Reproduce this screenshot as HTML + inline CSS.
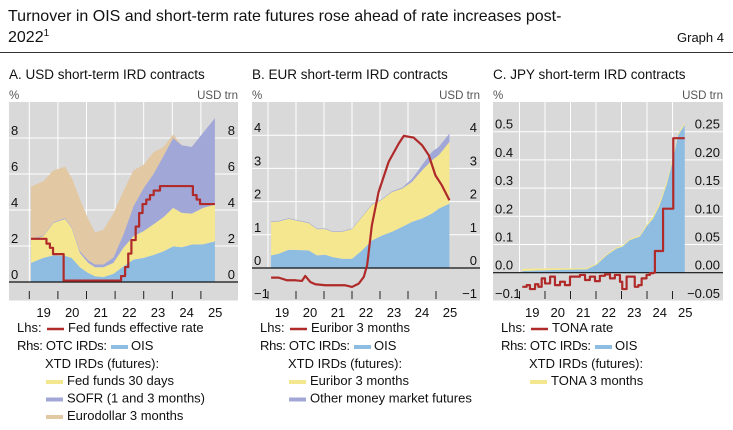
<!DOCTYPE html>
<html><head><meta charset="utf-8">
<style>
body{margin:0;background:#fff;}
svg{display:block;font-family:"Liberation Sans",sans-serif;}
</style></head>
<body>
<svg id="chart" width="733" height="430" viewBox="0 0 733 430" xmlns="http://www.w3.org/2000/svg">
<text x="8" y="21" font-size="16" fill="#111">Turnover in OIS and short-term rate futures rose ahead of rate increases post-</text>
<text x="8" y="42" font-size="16" fill="#111">2022<tspan font-size="10" dy="-6">1</tspan></text>
<text x="724" y="42" font-size="13" fill="#111" text-anchor="end">Graph 4</text>
<line x1="0" y1="52.5" x2="733" y2="52.5" stroke="#333" stroke-width="1"/>
</svg>
<script>
// ---------- Panel A data (USD) ----------
const aYears = [2019.06,2019.49,2019.84,2020.25,2020.48,2020.77,2021.06,2021.30,2021.59,2021.94,2022.29,2022.64,2022.99,2023.34,2023.69,2024.03,2024.33,2024.68,2025.08,2025.49];
const aOIS = [1.06,1.34,1.48,1.45,1.34,0.82,0.50,0.32,0.28,0.45,0.87,1.24,1.34,1.50,1.70,1.98,1.93,2.08,2.10,2.26];
const aFedFunds30 = [1.30,1.20,1.80,2.05,1.66,0.79,0.56,0.50,0.54,0.61,1.03,1.30,1.48,1.70,1.90,2.14,1.91,1.72,2.02,2.04];
const aSOFR = [0.04,0.04,0.04,0.05,0.05,0.10,0.15,0.15,0.15,0.30,0.73,1.66,2.38,2.80,3.40,3.88,3.76,3.70,4.18,4.80];
const aEurodollar = [2.90,3.02,2.88,2.85,2.75,2.89,2.29,1.78,1.93,2.44,2.42,2.00,1.30,1.20,0.50,0.20,0,0,0,0];
const aRateYears = [2019.06,2019.60,2019.72,2019.83,2020.20,2022.21,2022.35,2022.46,2022.57,2022.72,2022.84,2022.96,2023.09,2023.22,2023.35,2023.57,2024.72,2024.85,2024.97];
const aRate = [2.40,2.13,1.90,1.55,0.08,0.33,0.83,1.58,2.33,3.08,3.83,4.33,4.58,4.83,5.08,5.33,4.83,4.58,4.33];
const aRateEnd = 2025.49;
const aTicks = [0,2,4,6,8];
// ---------- Panel B data (EUR) ----------
const bYears = [2019.11,2019.38,2019.74,2020.45,2020.75,2021.05,2021.29,2021.64,2022.00,2022.36,2022.71,2023.07,2023.43,2023.79,2024.14,2024.50,2024.86,2025.10,2025.48];
const bOIS = [0.38,0.43,0.55,0.53,0.38,0.40,0.33,0.28,0.28,0.53,0.83,0.98,1.09,1.24,1.39,1.49,1.64,1.79,1.94];
const bEuriborFut = [1.01,0.97,0.93,0.82,0.79,0.77,0.76,0.81,0.89,1.01,1.07,1.08,1.20,1.15,1.20,1.45,1.61,1.61,1.86];
const bOtherFut = [0.02,0.02,0.02,0.02,0.02,0.02,0.02,0.02,0.02,0.02,0.02,0.02,0.02,0.03,0.09,0.16,0.25,0.25,0.25];
const bRateYears = [2019.11,2019.38,2019.68,2019.98,2020.21,2020.33,2020.51,2020.69,2021.05,2021.76,2022.00,2022.24,2022.42,2022.54,2022.71,2022.95,2023.31,2023.67,2023.85,2024.20,2024.50,2024.74,2024.98,2025.21,2025.48];
const bRate = [-0.29,-0.29,-0.37,-0.37,-0.39,-0.24,-0.42,-0.49,-0.52,-0.52,-0.57,-0.47,-0.27,0.08,1.29,2.29,3.20,3.75,3.98,3.93,3.70,3.40,2.79,2.49,2.04];
const bTicks = [-1,0,1,2,3,4];
// ---------- Panel C data (JPY) ----------
const cYears = [2019.11,2020.46,2021.63,2022.02,2022.42,2022.81,2023.03,2023.33,2023.72,2023.98,2024.24,2024.50,2024.77,2025.00,2025.22,2025.48];
const cOIS = [0.003,0.005,0.006,0.014,0.031,0.043,0.046,0.058,0.064,0.082,0.096,0.120,0.156,0.197,0.244,0.262];
const cTonaFut = [0.004,0.003,0.002,0.002,0.002,0.002,0.002,0.002,0.002,0.003,0.004,0.005,0.005,0.004,0.003,0.003];
const cRateYears = [2019.11,2019.28,2019.41,2019.61,2019.74,2019.87,2020.00,2020.20,2020.39,2020.59,2020.78,2020.98,2021.17,2021.37,2021.57,2021.76,2021.96,2022.15,2022.35,2022.55,2022.74,2022.94,2023.03,2023.20,2023.39,2023.52,2023.66,2023.79,2023.98,2024.11,2024.24,2024.31,2024.63,2025.03];
const cRate = [-0.050,-0.044,-0.058,-0.041,-0.050,-0.020,-0.038,-0.014,-0.044,-0.032,-0.044,-0.014,-0.014,-0.008,-0.026,-0.014,-0.030,-0.011,-0.006,-0.020,-0.008,-0.032,-0.058,-0.014,-0.014,-0.050,-0.044,-0.020,-0.008,-0.002,0.000,0.077,0.227,0.477];
const cRateEnd = 2025.48;
const cTicksL = [-0.1,0.0,0.1,0.2,0.3,0.4,0.5];
const cTicksR = ["−0.05","0.00","0.05","0.10","0.15","0.20","0.25"];
const yearLabels = ["19","20","21","22","23","24","25"];

const NS = "http://www.w3.org/2000/svg";
const svg = document.getElementById("chart");
function mk(tag, attrs, parent){const e=document.createElementNS(NS,tag);for(const k in attrs)e.setAttribute(k,attrs[k]);(parent||svg).appendChild(e);return e;}

const COL = {blue:"#8fbde2", yellow:"#f5e78f", purple:"#a1a7d6", tan:"#e2c8a3", red:"#b02a2a"};

function panel(cfg){
  const g = mk("g",{});
  
  
  const X = y => cfg.x0 + (y - cfg.y0year) * cfg.xs;
  const Y = v => cfg.zeroY - v * cfg.ys;
  const YR = v => cfg.zeroY - v * cfg.ysR;
  const bg = mk("rect",{x:cfg.left,y:cfg.top,width:cfg.right-cfg.left,height:cfg.bottom-cfg.top,fill:"#d9d9d9"},g);
  
  
  cfg.grid.forEach(v=>{
    if(v===0) return;
    const l = mk("line",{x1:cfg.left,x2:cfg.right,y1:Y(v),y2:Y(v),stroke:"#fff","stroke-width":1},g);
    
    
  });
  for(let yr=2019; yr<=2025; yr++){
    const x = X(yr);
    if(x > cfg.left+8 && x < cfg.right){
      const l = mk("line",{x1:x,x2:x,y1:cfg.top,y2:cfg.zeroY,stroke:"#fff","stroke-width":1},g);
      
      
      const t = mk("line",{x1:x,x2:x,y1:291,y2:299,stroke:"#222","stroke-width":1},g);
      
      
    }
    const lx = X(yr+0.5);
    const lab = mk("text",{x:lx,y:317,"font-size":13,"text-anchor":"middle",fill:"#111"},g);
    lab.textContent = yearLabels[yr-2019];
    
    
  }
  let base = cfg.years.map(()=>0);
  cfg.stacks.forEach(s=>{
    const top = base.map((b,i)=>b+s.vals[i]);
    let pts = cfg.years.map((yr,i)=>X(yr)+","+YR(top[i]));
    pts = pts.concat(cfg.years.map((yr,i)=>[X(yr),YR(base[i])]).reverse().map(p=>p[0]+","+p[1]));
    const p = mk("polygon",{points:pts.join(" "),fill:s.color},g);
    
    
    base = top;
  });
  const z = mk("line",{x1:cfg.left,x2:cfg.right,y1:cfg.zeroY,y2:cfg.zeroY,stroke:"#111","stroke-width":1.2},g);
  
  
  let d = "";
  cfg.rateYears.forEach((yr,i)=>{
    if(cfg.step){
      if(i===0) d += "M"+X(yr)+","+Y(cfg.rate[i]);
      else d += "H"+X(yr)+"V"+Y(cfg.rate[i]);
    } else {
      d += (i?"L":"M")+X(yr)+","+Y(cfg.rate[i]);
    }
  });
  if(cfg.step) d += "H"+X(cfg.rateEnd);
  const rl = mk("path",{d:d,fill:"none",stroke:COL.red,"stroke-width":2.2,"stroke-linejoin":"round"},g);
  
  
  cfg.ticksL.forEach((v,i)=>{
    const t = mk("text",{x:cfg.left+2,y:Y(v)-3,"font-size":13,fill:"#111"},g);
    t.textContent = cfg.fmtL(v);
    
    
    const r = mk("text",{x:cfg.right-3,y:Y(v)-3,"font-size":13,fill:"#111","text-anchor":"end"},g);
    r.textContent = cfg.fmtR(v,i);
    
    
  });
  const pu = mk("text",{x:cfg.left,y:99,"font-size":11.5,fill:"#555"},g);
  pu.textContent = "%";
  
  
  const ru = mk("text",{x:cfg.right,y:99,"font-size":11.5,fill:"#555","text-anchor":"end"},g);
  ru.textContent = "USD trn";
  
  
  const ti = mk("text",{x:cfg.left,y:79,"font-size":13.5,fill:"#111"},g);
  ti.textContent = cfg.title;
  
  
  const L = cfg.left+8;
  function txt(x,y,s,name){const t=mk("text",{x:x,y:y,"font-size":13,fill:"#111"},g);t.textContent=s;return t;}
  function sw(x,y,c,h,name){const r=mk("rect",{x:x,y:y-h/2,width:17,height:h,fill:c},g);}
  txt(L,332,"Lhs:","legend-lhs-label");
  sw(L+30,329,COL.red,2.5,"legend-rate-swatch");
  txt(L+51,332,cfg.rateLabel,"legend-rate-text");
  const rhs = txt(L,350,"Rhs: OTC IRDs:","legend-rhs-label");
  rhs.setAttribute("textLength","90");
  sw(L+94,347,COL.blue,4,"legend-ois-swatch");
  txt(L+114,350,"OIS","legend-ois-text");
  txt(L+28,368,"XTD IRDs (futures):","legend-xtd-label");
  cfg.legendFut.forEach((f,i)=>{
    const y = 385 + i*17.5;
    sw(L+29,y-3,f.color,4,"legend-"+f.key+"-swatch");
    txt(L+50,y,f.label,"legend-"+f.key+"-text");
  });
}

panel({name:"panel-a-usd", title:"A. USD short-term IRD contracts", left:9, right:238, top:102, bottom:300.5,
  x0:29.3, y0year:2019, xs:28.6, zeroY:282, ys:18, ysR:18, grid:[0,2,4,6,8],
  years:aYears, stacks:[
    {name:"area-ois",vals:aOIS,color:COL.blue},
    {name:"area-fed-funds-30d",vals:aFedFunds30,color:COL.yellow},
    {name:"area-sofr",vals:aSOFR,color:COL.purple},
    {name:"area-eurodollar",vals:aEurodollar,color:COL.tan}],
  rateYears:aRateYears, rate:aRate, step:true, rateEnd:aRateEnd, rateName:"fed-funds-rate-line",
  ticksL:aTicks, fmtL:v=>String(v), fmtR:v=>String(v),
  rateLabel:"Fed funds effective rate",
  legendFut:[{key:"fedfunds30",label:"Fed funds 30 days",color:COL.yellow},{key:"sofr",label:"SOFR (1 and 3 months)",color:COL.purple},{key:"eurodollar",label:"Eurodollar 3 months",color:COL.tan}]
});
panel({name:"panel-b-eur", title:"B. EUR short-term IRD contracts", left:252, right:480, top:102, bottom:300.5,
  x0:296, y0year:2020, xs:28, zeroY:268, ys:33.2, ysR:33.2, grid:[0,1,2,3,4],
  years:bYears, stacks:[
    {name:"area-ois",vals:bOIS,color:COL.blue},
    {name:"area-euribor-futures",vals:bEuriborFut,color:COL.yellow},
    {name:"area-other-mm-futures",vals:bOtherFut,color:COL.purple}],
  rateYears:bRateYears, rate:bRate, step:false, rateName:"euribor-rate-line",
  ticksL:bTicks, fmtL:v=>v<0?"−"+(-v):String(v), fmtR:v=>v<0?"−"+(-v):String(v),
  rateLabel:"Euribor 3 months",
  legendFut:[{key:"euribor",label:"Euribor 3 months",color:COL.yellow},{key:"othermm",label:"Other money market futures",color:COL.purple}]
});
panel({name:"panel-c-jpy", title:"C. JPY short-term IRD contracts", left:493, right:723, top:102, bottom:300.5,
  x0:545, y0year:2020, xs:25.5, zeroY:272.7, ys:282, ysR:564, grid:[0,0.1,0.2,0.3,0.4,0.5],
  years:cYears, stacks:[
    {name:"area-ois",vals:cOIS,color:COL.blue},
    {name:"area-tona-futures",vals:cTonaFut,color:COL.yellow}],
  rateYears:cRateYears, rate:cRate, step:true, rateEnd:cRateEnd, rateName:"tona-rate-line",
  ticksL:cTicksL, fmtL:v=>v<0?"−"+(-v).toFixed(1):v.toFixed(1), fmtR:(v,i)=>cTicksR[i],
  rateLabel:"TONA rate",
  legendFut:[{key:"tona",label:"TONA 3 months",color:COL.yellow}]
});
</script>
</body></html>
